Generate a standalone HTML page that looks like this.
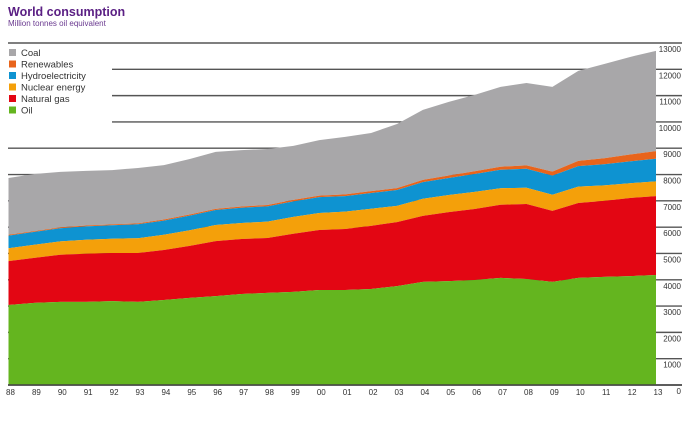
<!DOCTYPE html>
<html><head><meta charset="utf-8"><style>
html,body{margin:0;padding:0;background:#fff;}
svg{display:block;font-family:"Liberation Sans",sans-serif;}
</style></head><body>
<svg id="chart" width="690" height="438" viewBox="0 0 690 438">
<text x="8" y="16" font-size="12.5" font-weight="bold" fill="#5b2084">World consumption</text>
<text x="8" y="26" font-size="8" fill="#6a3a90">Million tonnes oil equivalent</text>
<g id="grid"></g><g id="areas"></g><g id="axes"></g>
<g id="legend"></g>
</svg>
<script>
const years = ['88','89','90','91','92','93','94','95','96','97','98','99','00','01','02','03','04','05','06','07','08','09','10','11','12','13'];
const oil = [3040,3120,3160,3160,3190,3160,3230,3310,3380,3460,3500,3540,3610,3610,3650,3760,3920,3950,3990,4070,4030,3920,4070,4110,4140,4180];
const gas = [1670,1710,1790,1830,1830,1860,1900,1980,2090,2090,2090,2210,2280,2320,2400,2430,2510,2620,2700,2780,2850,2700,2850,2890,2970,3000];
const nuclear = [490,500,510,530,540,560,580,590,610,610,620,640,650,660,650,620,650,650,650,630,620,610,620,590,560,560];
const hydro = [480,490,500,510,510,530,540,560,570,580,580,590,600,590,600,600,630,650,680,700,720,730,780,800,830,860];
const renewables = [30,30,30,35,35,35,40,40,45,45,50,55,60,65,70,75,85,95,105,115,130,150,200,230,260,290];
const coal = [2160,2170,2110,2075,2065,2105,2070,2110,2165,2145,2130,2055,2110,2185,2210,2435,2665,2795,2905,3035,3130,3220,3420,3580,3710,3810];
const yTicks = [0,1000,2000,3000,4000,5000,6000,7000,8000,9000,10000,11000,12000,13000];
const seriesNames = ['Coal','Renewables','Hydroelectricity','Nuclear energy','Natural gas','Oil'];

const NS='http://www.w3.org/2000/svg';
const x0=8.5,x1=656,yBase=385,yTop=43,vMax=13000;
const xs=i=>x0+(x1-x0)*i/(years.length-1);
const ys=v=>yBase-(yBase-yTop)*v/vMax;
function mk(tag,attrs,parent){const e=document.createElementNS(NS,tag);for(const k in attrs)e.setAttribute(k,attrs[k]);parent.appendChild(e);return e;}
const grid=document.getElementById('grid'),areas=document.getElementById('areas'),axes=document.getElementById('axes'),legend=document.getElementById('legend');

yTicks.forEach(t=>{
  const y=ys(t);
  const startX=(t>=10000&&t<=12000)?112:8;
  const l=mk('line',{x1:startX,x2:682,y1:y,y2:y,stroke:'#555','stroke-width':1.4},grid);
  
  
  const tx=mk('text',{x:681,y:y+9,'font-size':8,'text-anchor':'end',fill:'#333'},axes);
  tx.textContent=String(t);
  
  
});

const stackOrder=[['oil',oil,'#64b51f'],['natural-gas',gas,'#e30613'],['nuclear',nuclear,'#f4a00a'],['hydro',hydro,'#0e93d1'],['renewables',renewables,'#e8641b'],['coal',coal,'#a8a7a9']];
const cum=years.map(()=>0);
const layers=[];
stackOrder.forEach(([name,arr,col])=>{
  const lower=cum.slice();
  arr.forEach((v,i)=>cum[i]+=v);
  layers.push([name,lower,cum.slice(),col]);
});
layers.slice().reverse().forEach(([name,lower,upper,col])=>{
  let d='';
  upper.forEach((v,i)=>{d+=(i?'L':'M')+xs(i).toFixed(2)+','+ys(v).toFixed(2);});
  for(let i=lower.length-1;i>=0;i--)d+='L'+xs(i).toFixed(2)+','+ys(lower[i]).toFixed(2);
  d+='Z';
  const p=mk('path',{d:d,fill:col},areas);
  
  
});
// base line
const bl=mk('line',{x1:8,x2:682,y1:yBase,y2:yBase,stroke:'#444','stroke-width':1.6},axes);


years.forEach((yr,i)=>{
  const t=mk('text',{x:xs(i)+2,y:395,'font-size':8,'text-anchor':'middle',fill:'#333'},axes);
  t.textContent=yr;
  
  
});
const legCols=['#a8a7a9','#e8641b','#0e93d1','#f4a00a','#e30613','#64b51f'];
seriesNames.forEach((n,i)=>{
  const y=53+i*11.5;
  const r=mk('rect',{x:9,y:y-4,width:7,height:7,fill:legCols[i]},legend);
  
  
  const t=mk('text',{x:21,y:y+3,'font-size':9.5,fill:'#333'},legend);
  t.textContent=n;
  
  
});
</script>
</body></html>
